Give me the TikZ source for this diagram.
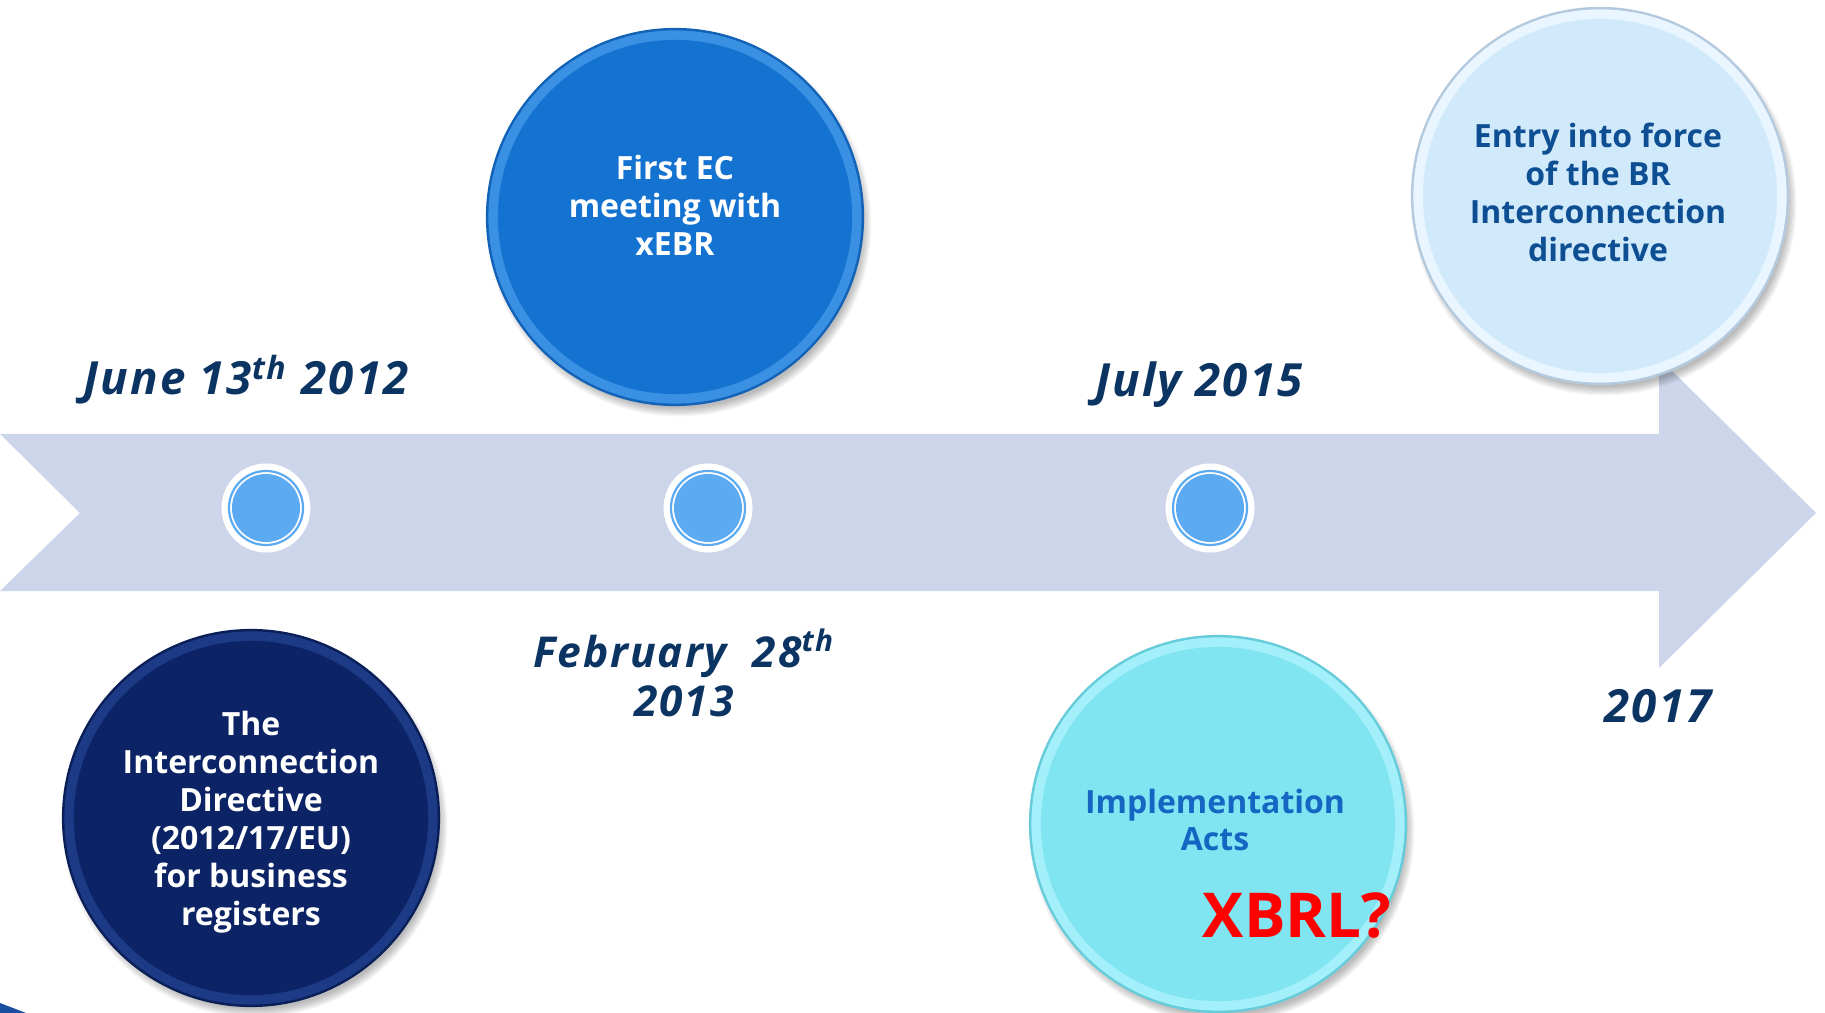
\documentclass[tikz,border=0pt]{standalone}
\usepackage{fontspec}
\setmainfont{Open Sans}
\setsansfont{Open Sans}
\newfontfamily\datefont[LetterSpace=4.5]{Open Sans}
\definecolor{bandc}{HTML}{CDD5EA}
\definecolor{datec}{HTML}{0B3462}
\definecolor{dotc}{HTML}{5CAAF1}
\definecolor{ecmain}{HTML}{1473D0}
\definecolor{ecrim}{HTML}{3A90E3}
\definecolor{ecedge}{HTML}{1262B8}
\definecolor{navmain}{HTML}{0C2465}
\definecolor{navrim}{HTML}{1C3A86}
\definecolor{navedge}{HTML}{0A1F58}
\definecolor{cymain}{HTML}{80E4F1}
\definecolor{cyrim}{HTML}{A3F0FA}
\definecolor{cyedge}{HTML}{66CCDA}
\definecolor{cytext}{HTML}{1566C3}
\definecolor{ltmain}{HTML}{D1EAFB}
\definecolor{ltrim}{HTML}{E9F6FF}
\definecolor{ltedge}{HTML}{B3CADF}
\definecolor{lttext}{HTML}{0E4F93}
\definecolor{xred}{HTML}{FF0000}
\definecolor{cornerc}{HTML}{1A4E9E}
\newcommand\mybtn[5]{%
  \begin{scope}[shift={#2}]
    \foreach \k in {0,...,7}{\fill[black,opacity=0.035] (4,7) circle[radius={1.84cm+\k*0.012cm}];}
    \node[circle, minimum size=3.78cm, inner sep=0pt, fill=#5] (#1) at (0,0) {};
    \fill[#4] (0,0) circle[radius=1.865cm];
    \fill[#3] (0,0) circle[radius=1.77cm];
  \end{scope}}
\tikzset{
  datetxt/.style={font=\datefont\fontsize{13}{15}\selectfont\bfseries\itshape, text=datec, inner sep=0pt, anchor=base},
  febtxt/.style={datetxt, font=\datefont\fontsize{12.1}{14}\selectfont\bfseries\itshape},
  circtxt/.style={font=\fontsize{9.1}{10.8}\selectfont\bfseries, align=center, inner sep=0pt},
  dotring/.style={circle, fill=white, minimum size=0.89cm, inner sep=0pt},
}
\begin{document}
\begin{tikzpicture}[x=0.01cm,y=-0.01cm]
\useasboundingbox (0,0) rectangle (1825,1013);
\fill[white] (0,0) rectangle (1825,1013);
% timeline band
\fill[bandc] (0,434) -- (1659,434) -- (1659,358) -- (1816,513) -- (1659,668) -- (1659,591) -- (0,591) -- (80,513) -- cycle;
% corner sliver
\fill[cornerc] (0,1003) -- (26,1013) -- (0,1013) -- cycle;
% dots
\foreach \n/\x in {d1/266, d2/708, d3/1210}{
  \node[dotring] (\n) at (\x,508) {};
  \draw[dotc, line width=0.022cm] (\n.center) circle[radius=0.37cm];
  \fill[dotc] (\n.center) circle[radius=0.34cm];
}
% big circles
\mybtn{ec}{(675,217)}{ecmain}{ecrim}{ecedge}
\mybtn{dir}{(251,818)}{navmain}{navrim}{navedge}
\mybtn{impl}{(1218,824)}{cymain}{cyrim}{cyedge}
\mybtn{entry}{(1600,196)}{ltmain}{ltrim}{ltedge}
% circle texts
\node[circtxt, text=white] (ectxt) at (675,205) {First EC\\meeting with\\xEBR};
\node[circtxt, text=white] (dirtxt) at (251,822) {The\\Interconnection\\Directive\\(2012/17/EU)\\for business\\registers};
\node[circtxt, text=cytext] (impltxt) at (1215,820) {Implementation\\Acts};
\node[circtxt, text=lttext] (entrytxt) at (1598,192) {Entry into force\\of the BR\\Interconnection\\directive};
\node[font=\fontsize{17.6}{20}\selectfont\bfseries, text=xred, inner sep=0pt, anchor=base] (xbrl) at (1297,937) {XBRL?};
% dates
\node[datetxt] (june) at (246,395) {June 13\textsuperscript{th} 2012};
\node[febtxt] (feb1) at (684,667) {February\ \ 28\textsuperscript{th}};
\node[febtxt] (feb2) at (684,716) {2013};
\node[datetxt] (july) at (1199,397) {July 2015};
\node[datetxt] (y2017) at (1658,722) {2017};
\end{tikzpicture}
\end{document}
